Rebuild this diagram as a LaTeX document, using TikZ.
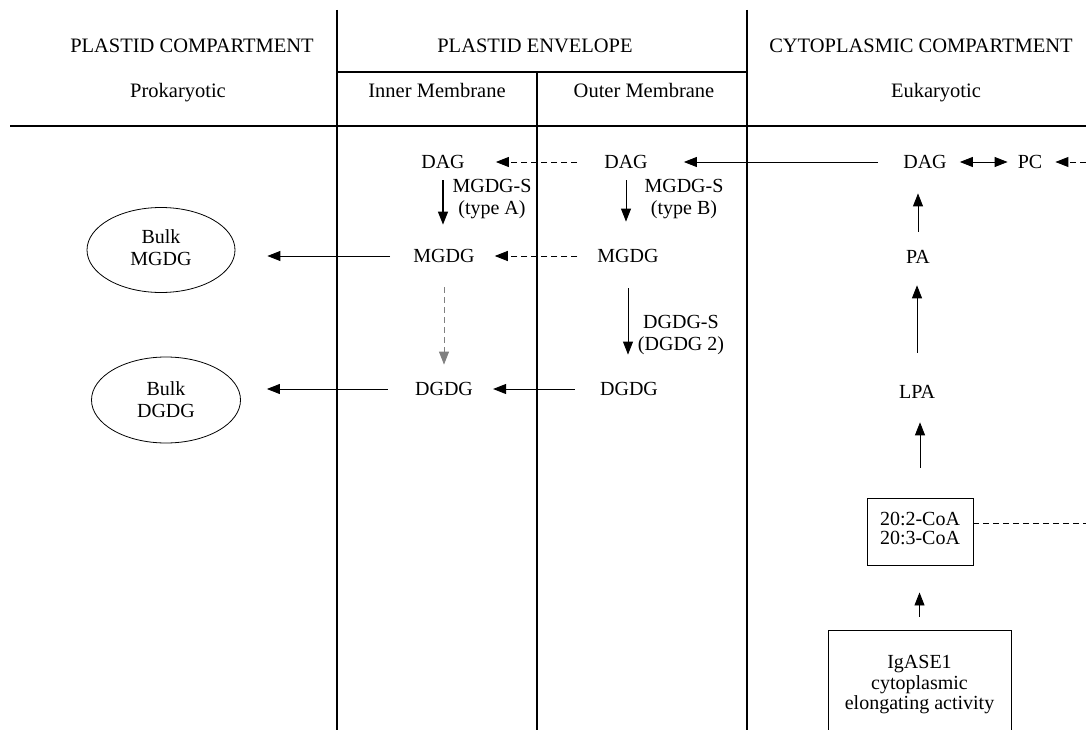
\documentclass[tikz,border=0pt]{standalone}
\usepackage{fontspec}
\setmainfont{Liberation Serif}
\usetikzlibrary{arrows.meta,shapes.geometric}
\begin{document}
\begin{tikzpicture}[x=1pt,y=-1pt,
  txt/.style={inner sep=0pt,font=\fontsize{20}{22}\selectfont},
  hdr/.style={inner sep=0pt,anchor=base,font=\fontsize{20.5}{22}\selectfont},
  lbl/.style={txt,align=center},
  arr/.style={-{Triangle[length=13pt,width=10pt]},line width=0.9pt},
  dsh/.style={dash pattern=on 6pt off 4pt},
  divline/.style={line width=1.1pt},
  bulk/.style={txt,draw,ellipse,line width=0.8pt,align=center,minimum width=148pt,minimum height=85pt},
  boxn/.style={txt,draw,line width=0.9pt,align=center}]
\useasboundingbox (0,0) rectangle (1086,730);
% dividers
\draw[divline] (337,10) -- (337,730);
\draw[divline] (747,10) -- (747,730);
\draw[divline] (537,72) -- (537,730);
\draw[divline] (337,72) -- (747,72);
\draw[divline] (10,126) -- (1086,126);
% headers
\node[hdr] (h1) at (192,53) {PLASTID COMPARTMENT};
\node[hdr] (h2) at (535,53) {PLASTID ENVELOPE};
\node[hdr] (h3) at (921,53) {CYTOPLASMIC COMPARTMENT};
\node[hdr] (s1) at (178,98) {Prokaryotic};
\node[hdr] (s2) at (437,98) {Inner Membrane};
\node[hdr] (s3) at (644,98) {Outer Membrane};
\node[hdr] (s4) at (936,98) {Eukaryotic};
% nodes
\node[txt] (dagI) at (443,162) {DAG};
\node[txt] (dagO) at (626,162) {DAG};
\node[txt] (dagC) at (925,162) {DAG};
\node[txt] (pc) at (1030,162) {PC};
\node[txt] (mgdgI) at (444,256) {MGDG};
\node[txt] (mgdgO) at (628,256) {MGDG};
\node[txt] (dgdgI) at (444,389) {DGDG};
\node[txt] (dgdgO) at (629,389) {DGDG};
\node[txt] (pa) at (918,257) {PA};
\node[txt] (lpa) at (917,392) {LPA};
\node[bulk] (bulkM) at (161,250) {\raisebox{4pt}{\begin{tabular}{@{}c@{}}Bulk\\MGDG\end{tabular}}};
\node[bulk,minimum width=149pt,minimum height=86pt] (bulkD) at (166,400) {Bulk\\DGDG};
\node[boxn,minimum width=106pt,minimum height=67pt,font=\fontsize{20}{19}\selectfont] (coa) at (920,531.5) {\raisebox{-3pt}{\begin{tabular}{@{}c@{}}20:2-CoA\\20:3-CoA\end{tabular}}};
\node[boxn,minimum width=183pt,minimum height=110pt,font=\fontsize{20}{20.5}\selectfont] (ig) at (919.5,685) {IgASE1\\cytoplasmic\\elongating activity};
\node[lbl] (labA) at (492,199) {MGDG-S\\(type A)};
\node[lbl] (labB) at (684,199) {MGDG-S\\(type B)};
\node[lbl] (labC) at (681,335) {DGDG-S\\(DGDG 2)};
\coordinate (rPC) at (1086,162);
\coordinate (rCoA) at (1086,523);
% connectors
\draw[arr,shorten <=25pt,shorten >=36pt] (dagC.west) -- (dagO.east);
\draw[arr,dsh,shorten <=27pt,shorten >=31pt] (dagO.west) -- (dagI.east);
\draw[arr,dsh,shorten <=20pt,shorten >=20pt] (mgdgO.west) -- (mgdgI.east);
\draw[arr,shorten <=23pt,shorten >=32pt] (mgdgI.west) -- (mgdgI.west -| bulkM.east);
\draw[arr,shorten <=25pt,shorten >=20pt] (dgdgO.west) -- (dgdgI.east);
\draw[arr,shorten <=27pt,shorten >=26pt] (dgdgI.west) -- (dgdgI.west -| bulkD.east);
\draw[arr,line width=1.3pt,shorten <=11.5pt,shorten >=24.5pt] (dagI.south) -- (dagI.south |- mgdgI.north);
\draw[arr,shorten <=11.5pt,shorten >=27.5pt] (dagO.south) -- (dagO.south |- mgdgO.north);
\draw[arr,dsh,gray,shorten <=24.5pt,shorten >=17.5pt] (mgdgI.south) -- (dgdgI.north);
\draw[arr,shorten <=25.5pt,shorten >=27.5pt] (mgdgO.south) -- (mgdgO.south |- dgdgO.north);
\draw[arr,shorten <=18.5pt,shorten >=24.5pt] (pa.north) -- (pa.north |- dagC.south);
\draw[arr,shorten <=32.5pt,shorten >=21.5pt] (lpa.north) -- (lpa.north |- pa.south);
\draw[arr,shorten <=30pt,shorten >=23.5pt] (coa.north) -- (lpa.south -| coa.north);
\draw[arr,shorten <=13pt,shorten >=27pt] (ig.north) -- (coa.south -| ig.north);
\draw[{Triangle[length=13pt,width=10pt]}-{Triangle[length=13pt,width=10pt]},line width=0.9pt,shorten <=13pt,shorten >=10pt] (dagC.east) -- (pc.west);
\draw[arr,dsh,shorten >=13pt] (rPC) -- (pc.east);
\draw[dsh,line width=0.8pt] (coa.east |- rCoA) -- (rCoA);
\end{tikzpicture}
\end{document}
